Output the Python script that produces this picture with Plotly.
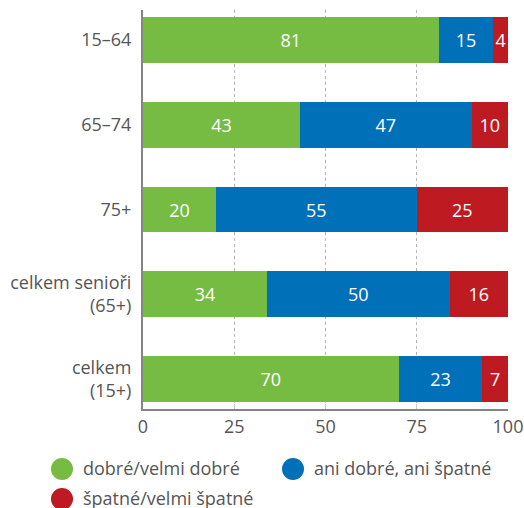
import plotly.graph_objects as go

categories = ["15–64", "65–74", "75+", "celkem senioři<br>(65+)", "celkem<br>(15+)"]
good = [81, 43, 20, 34, 70]
neutral = [15, 47, 55, 50, 23]
bad = [4, 10, 25, 16, 7]
series_names = ["dobré/velmi dobré", "ani dobré, ani špatné", "špatné/velmi špatné"]
colors = ["#76bc43", "#0070b8", "#be1a21"]
x_ticks = [0, 25, 50, 75, 100]

FONT = "Open Sans"
TXT = "#555555"
W, H = 524, 508
ML, MR, MT, MB = 143, 16, 10, 99
PW, PH = W - ML - MR, H - MT - MB

fig = go.Figure()
for name, vals, col in zip(series_names, [good, neutral, bad], colors):
    fig.add_trace(go.Bar(
        y=categories, x=vals, name=name, orientation="h",
        marker=dict(color=col, line=dict(width=0)),
        text=[str(v) for v in vals], textposition="inside",
        insidetextanchor="middle", textangle=0,
        textfont=dict(color="white", size=18, family=FONT),
        constraintext="none", showlegend=False, hoverinfo="skip",
    ))

# manual legend (circle swatches + labels); slots given in pixels
def px2x(px):
    return (px - ML) / PW

def py2y(py):
    return (H - MB - py) / PH

legend_slots = [(62, 469), (293, 469), (62, 499)]
for (cx, cy), name, col in zip(legend_slots, series_names, colors):
    fig.add_shape(type="circle", xref="paper", yref="paper",
                  xsizemode="pixel", ysizemode="pixel",
                  xanchor=px2x(cx), yanchor=py2y(cy),
                  x0=-11, x1=11, y0=-11, y1=11,
                  fillcolor=col, line=dict(width=0), layer="above")
    fig.add_annotation(xref="paper", yref="paper", x=px2x(cx + 19), y=py2y(cy - 1),
                       xanchor="left", yanchor="middle", showarrow=False,
                       text=name, font=dict(size=18, color=TXT, family=FONT))

fig.update_layout(
    barmode="stack", bargap=0.46,
    width=W, height=H,
    margin=dict(l=ML, r=MR, t=MT, b=MB),
    plot_bgcolor="white", paper_bgcolor="white",
    font=dict(family=FONT, color=TXT, size=18),
    showlegend=False,
    xaxis=dict(range=[0, 100], tickvals=x_ticks, showgrid=True,
               gridcolor="#b5b5b5", griddash="dot", gridwidth=1,
               showline=True, linecolor="#858585", linewidth=2,
               ticks="inside", ticklen=5, tickcolor="#cccccc",
               tickfont=dict(size=18, color=TXT), zeroline=False,
               automargin=False),
    yaxis=dict(categoryorder="array", categoryarray=categories, autorange=False,
               range=[4.354, -0.354],
               showline=True, linecolor="#858585", linewidth=2,
               ticks="", tickfont=dict(size=18, color=TXT),
               ticklabelstandoff=6, showgrid=False, automargin=False),
)
fig.write_html(
    "out.html",
    config={"displayModeBar": False},
    post_script="document.body.style.margin='0';document.body.style.overflow='hidden';",
)
